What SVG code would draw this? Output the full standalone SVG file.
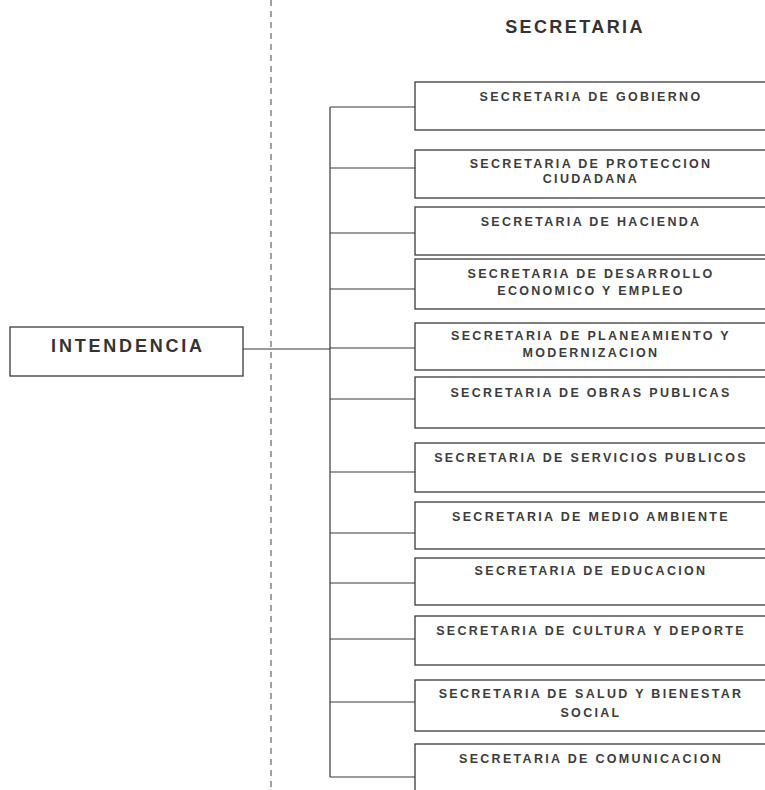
<svg xmlns="http://www.w3.org/2000/svg" width="765" height="790" viewBox="0 0 765 790">
<style>
.box{fill:#ffffff;stroke:#3a3a3a;stroke-width:1.3}
.lbl{font-family:"Liberation Sans",Arial,sans-serif;font-weight:bold;font-size:12.5px;letter-spacing:2.3px;fill:#3c3c3c;text-anchor:middle}
.big{font-family:"Liberation Sans",Arial,sans-serif;font-weight:bold;font-size:18px;fill:#333;text-anchor:middle}
.ln{stroke:#3a3a3a;stroke-width:1.2;fill:none}
</style>
<rect width="765" height="790" fill="#ffffff"/>
<line x1="271" y1="0" x2="271" y2="790" stroke="#666" stroke-width="1.2" stroke-dasharray="6,5"/>
<text class="big" x="575" y="33" letter-spacing="2.4">SECRETARIA</text>
<g id="connectors">
<path class="ln" d="M243 349H330M330 107V777M330 107H415M330 168H415M330 233H415M330 289H415M330 348H415M330 399H415M330 472H415M330 533H415M330 583H415M330 639H415M330 702H415M330 777H415"/>
</g>
<g id="intendencia"><rect class="box" x="10" y="327" width="233" height="49"/><text class="big" x="128" y="352" letter-spacing="2.8">INTENDENCIA</text></g>
<g id="gobierno"><rect class="box" x="415" y="82" width="360" height="48"/><text class="lbl" x="591" y="101">SECRETARIA DE GOBIERNO</text></g>
<g id="proteccion"><rect class="box" x="415" y="150" width="360" height="48"/><text class="lbl" x="591" y="168">SECRETARIA DE PROTECCION</text><text class="lbl" x="591" y="183">CIUDADANA</text></g>
<g id="hacienda"><rect class="box" x="415" y="207" width="360" height="48"/><text class="lbl" x="591" y="226">SECRETARIA DE HACIENDA</text></g>
<g id="desarrollo"><rect class="box" x="415" y="259" width="360" height="50"/><text class="lbl" x="591" y="278">SECRETARIA DE DESARROLLO</text><text class="lbl" x="591" y="295">ECONOMICO Y EMPLEO</text></g>
<g id="planeamiento"><rect class="box" x="415" y="323" width="360" height="47"/><text class="lbl" x="591" y="340">SECRETARIA DE PLANEAMIENTO Y</text><text class="lbl" x="591" y="357">MODERNIZACION</text></g>
<g id="obras"><rect class="box" x="415" y="377" width="360" height="51"/><text class="lbl" x="591" y="397">SECRETARIA DE OBRAS PUBLICAS</text></g>
<g id="servicios"><rect class="box" x="415" y="443" width="360" height="49"/><text class="lbl" x="591" y="462">SECRETARIA DE SERVICIOS PUBLICOS</text></g>
<g id="ambiente"><rect class="box" x="415" y="502" width="360" height="47"/><text class="lbl" x="591" y="521">SECRETARIA DE MEDIO AMBIENTE</text></g>
<g id="educacion"><rect class="box" x="415" y="558" width="360" height="47"/><text class="lbl" x="591" y="575">SECRETARIA DE EDUCACION</text></g>
<g id="cultura"><rect class="box" x="415" y="616" width="360" height="49"/><text class="lbl" x="591" y="635">SECRETARIA DE CULTURA Y DEPORTE</text></g>
<g id="salud"><rect class="box" x="415" y="680" width="360" height="51"/><text class="lbl" x="591" y="698">SECRETARIA DE SALUD Y BIENESTAR</text><text class="lbl" x="591" y="717">SOCIAL</text></g>
<g id="comunicacion"><rect class="box" x="415" y="744" width="360" height="60"/><text class="lbl" x="591" y="763">SECRETARIA DE COMUNICACION</text></g>
</svg>
